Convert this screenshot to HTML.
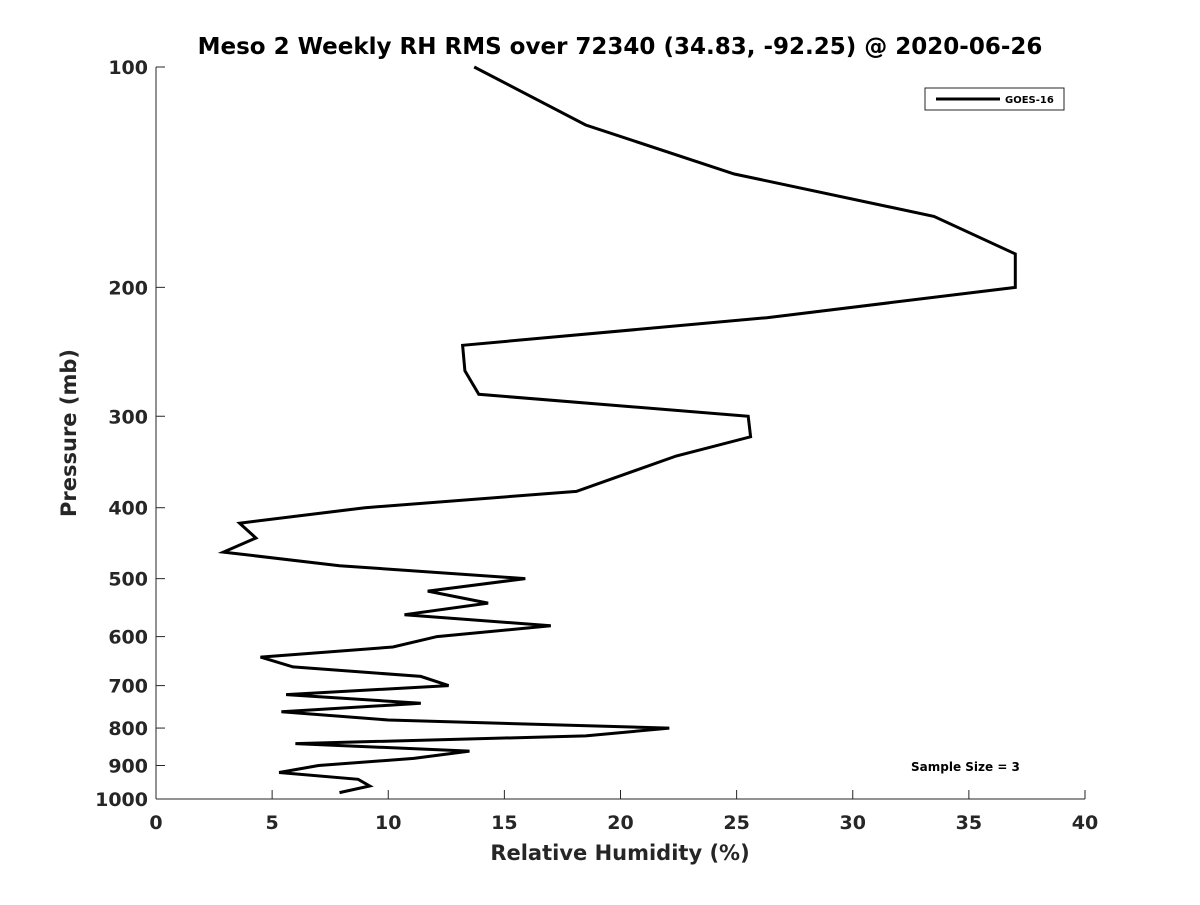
<!DOCTYPE html>
<html><head><meta charset="utf-8"><style>
body{margin:0;background:#fff;font-family:"Liberation Sans","DejaVu Sans",sans-serif}
svg text{font-family:"DejaVu Sans","Liberation Sans",sans-serif;font-weight:bold;fill:#262626}
</style></head><body>
<svg id="chart" width="1200" height="900" viewBox="0 0 1200 900" xmlns="http://www.w3.org/2000/svg">
<rect width="1200" height="900" fill="#fff"/>
<text x="620" y="54" text-anchor="middle" font-size="23" style="fill:#000">Meso 2 Weekly RH RMS over 72340 (34.83, -92.25) @ 2020-06-26</text>
<g id="axes"></g>
<path id="line" fill="none" stroke="#000" stroke-width="3" stroke-linejoin="miter"/>
<g>
<rect x="925" y="88" width="139" height="22" fill="#fff" stroke="#262626" stroke-width="1"/>
<line x1="936" y1="99" x2="1000" y2="99" stroke="#000" stroke-width="3"/>
<text x="1005" y="103" font-size="10" style="fill:#000">GOES-16</text>
</g>
<text x="911" y="771" font-size="12" style="fill:#000">Sample Size = 3</text>
<text x="620" y="860" text-anchor="middle" font-size="21">Relative Humidity (%)</text>
<text transform="translate(76,433) rotate(-90)" text-anchor="middle" font-size="21">Pressure (mb)</text>
</svg>
<script>
const pressures=[100,120,140,160,180,200,220,240,260,280,300,320,340,380,400,420,440,460,480,500,520,540,560,580,600,620,640,660,680,700,720,740,760,780,800,820,840,860,880,900,920,940,960,980];
const rhValues=[13.7,18.5,24.9,33.5,37.0,37.0,26.3,13.2,13.3,13.9,25.5,25.6,22.4,18.1,9.0,3.6,4.3,2.9,7.9,15.9,11.7,14.3,10.7,17.0,12.1,10.2,4.5,5.9,11.4,12.6,5.6,11.4,5.4,10.0,22.1,18.5,6.0,13.5,11.1,7.0,5.3,8.7,9.2,7.9];
const xTicks=[0,5,10,15,20,25,30,35,40];
const yTicks=[100,200,300,400,500,600,700,800,900,1000];
const X0=156,X1=1085,Y0=67,Y1=799;
const xs=v=>X0+(v-0)/(40-0)*(X1-X0);
const ys=p=>Y0+Math.log10(p/100)*(Y1-Y0);
const NS="http://www.w3.org/2000/svg";
const ax=document.getElementById('axes');
function mk(t,a){const e=document.createElementNS(NS,t);for(const k in a)e.setAttribute(k,a[k]);ax.appendChild(e);return e;}
let e=mk('line',{x1:X0,y1:Y1,x2:X1,y2:Y1,stroke:'#262626','stroke-width':1});


e=mk('line',{x1:X0,y1:Y0,x2:X0,y2:Y1,stroke:'#262626','stroke-width':1});


xTicks.forEach(v=>{
 const x=xs(v);
 mk('line',{x1:x,y1:Y1,x2:x,y2:Y1-9,stroke:'#262626'});
 const t=mk('text',{x:x,y:Y1+30,'text-anchor':'middle','font-size':19});
 t.textContent=v;
 
 
});
yTicks.forEach(p=>{
 const y=ys(p);
 mk('line',{x1:X0,y1:y,x2:X0+9,y2:y,stroke:'#262626'});
 const t=mk('text',{x:X0-8,y:y+7,'text-anchor':'end','font-size':19});
 t.textContent=p;
 
 
});
document.getElementById('line').setAttribute('d',pressures.map((p,i)=>(i?'L':'M')+xs(rhValues[i]).toFixed(1)+','+ys(p).toFixed(1)).join(''));
</script>
</body></html>
